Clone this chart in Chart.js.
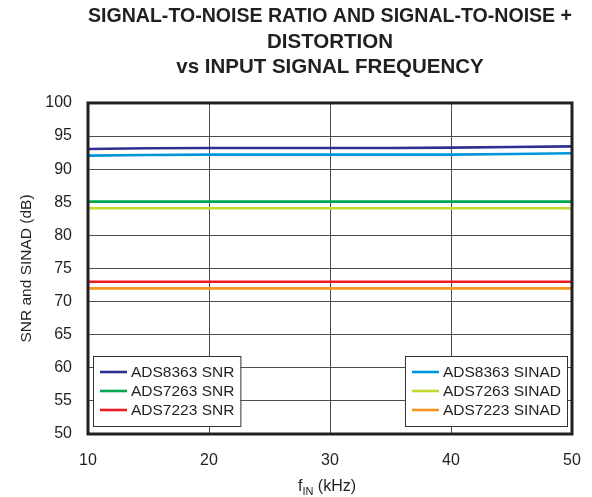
<!DOCTYPE html>
<html>
<head>
<meta charset="utf-8">
<script src="https://cdn.jsdelivr.net/npm/chart.js@4.4.1/dist/chart.umd.min.js"></script>
<style>
  html, body { margin: 0; padding: 0; background: #ffffff; }
  #wrap { width: 592px; height: 497px; position: relative; }
</style>
</head>
<body>
<div id="wrap"><canvas id="c" width="592" height="497"></canvas></div>
<script>
// ---- data ----
const freqs = [10, 15, 20, 25, 30, 35, 40, 45, 50];
const snr8363   = [93.05, 93.15, 93.2, 93.2, 93.2, 93.2, 93.25, 93.35, 93.45];
const snr7263   = [85.1, 85.1, 85.1, 85.1, 85.1, 85.1, 85.1, 85.1, 85.1];
const snr7223   = [73.0, 73.0, 73.0, 73.0, 73.0, 73.0, 73.0, 73.0, 73.0];
const sinad8363 = [92.05, 92.15, 92.2, 92.2, 92.2, 92.2, 92.2, 92.3, 92.4];
const sinad7263 = [84.1, 84.1, 84.1, 84.1, 84.1, 84.1, 84.1, 84.1, 84.1];
const sinad7223 = [72.0, 72.0, 72.0, 72.0, 72.0, 72.0, 72.0, 72.0, 72.0];
const seriesLabels = ['ADS8363 SNR', 'ADS7263 SNR', 'ADS7223 SNR', 'ADS8363 SINAD', 'ADS7263 SINAD', 'ADS7223 SINAD'];
const titleLines = ['SIGNAL-TO-NOISE RATIO AND SIGNAL-TO-NOISE +', 'DISTORTION', 'vs INPUT SIGNAL FREQUENCY'];
const yAxisTitle = 'SNR and SINAD (dB)';
const xTitleMain = 'f', xTitleSub = 'IN', xTitleRest = ' (kHz)';

const FONT = '"Liberation Sans", Arial, Helvetica, sans-serif';
const TEXT = '#231f20';
const colors = ['#2e3192', '#00a651', '#ed1c24', '#0095da', '#c4d82e', '#f7941d'];
const allSeries = [snr8363, snr7263, snr7223, sinad8363, sinad7263, sinad7223];

const datasets = allSeries.map((arr, i) => ({
  label: seriesLabels[i],
  data: freqs.map((f, j) => ({ x: f, y: arr[j] })),
  borderColor: colors[i],
  backgroundColor: colors[i],
  borderWidth: 2.6,
  pointRadius: 0,
  tension: 0,
  fill: false
}));

// frame + twin legends + x title with subscript
const decor = {
  id: 'decor',
  afterDatasetsDraw(chart) {
    const ctx = chart.ctx, a = chart.chartArea;
    ctx.save();
    ctx.strokeStyle = TEXT;
    ctx.lineWidth = 3;
    ctx.strokeRect(a.left, a.top, a.right - a.left, a.bottom - a.top);
    ctx.restore();
  },
  afterDraw(chart) {
    const ctx = chart.ctx, a = chart.chartArea;
    ctx.save();
    ctx.font = '15.5px ' + FONT;
    const drawBox = (idxs, alignLeft) => {
      let tw = 0;
      idxs.forEach(i => { tw = Math.max(tw, ctx.measureText(chart.data.datasets[i].label).width); });
      const w = 38 + tw + 6;
      const h = 70;
      const x0 = alignLeft ? a.left + 5 : a.right - 5 - w;
      const y0 = a.bottom - 8 - h;
      ctx.fillStyle = '#ffffff';
      ctx.fillRect(x0, y0, w, h);
      ctx.strokeStyle = '#333333';
      ctx.lineWidth = 1;
      ctx.strokeRect(x0 + 0.5, y0 + 0.5, w, h);
      idxs.forEach((i, k) => {
        const ds = chart.data.datasets[i];
        const cy = y0 + 16 + k * 19;
        ctx.strokeStyle = ds.borderColor;
        ctx.lineWidth = 2.6;
        ctx.beginPath();
        ctx.moveTo(x0 + 7, cy);
        ctx.lineTo(x0 + 34, cy);
        ctx.stroke();
        ctx.fillStyle = TEXT;
        ctx.textBaseline = 'middle';
        ctx.textAlign = 'left';
        ctx.fillText(ds.label, x0 + 38, cy + 1);
      });
    };
    drawBox([0, 1, 2], true);
    drawBox([3, 4, 5], false);

    // x-axis title with subscript
    const cx = (a.left + a.right) / 2 - 3;
    const base = 491;
    ctx.fillStyle = TEXT;
    ctx.textBaseline = 'alphabetic';
    ctx.textAlign = 'left';
    ctx.font = '16px ' + FONT;
    const w1 = ctx.measureText(xTitleMain).width;
    const w3 = ctx.measureText(xTitleRest).width;
    ctx.font = '11px ' + FONT;
    const w2 = ctx.measureText(xTitleSub).width;
    let x = cx - (w1 + w2 + w3) / 2;
    ctx.font = '16px ' + FONT;
    ctx.fillText(xTitleMain, x, base);
    x += w1;
    ctx.font = '11px ' + FONT;
    ctx.fillText(xTitleSub, x, base + 4);
    x += w2;
    ctx.font = '16px ' + FONT;
    ctx.fillText(xTitleRest, x, base);
    ctx.restore();
  }
};

new Chart(document.getElementById('c'), {
  type: 'line',
  data: { datasets },
  plugins: [decor],
  options: {
    responsive: false,
    animation: false,
    events: [],
    layout: { padding: { left: 13, right: 20, top: 0, bottom: 0 } },
    plugins: {
      legend: { display: false },
      tooltip: { enabled: false },
      title: {
        display: true,
        fullSize: false,
        text: titleLines,
        color: TEXT,
        font: { family: FONT, size: 20.5, weight: 'bold', lineHeight: 1.24 },
        padding: { top: 4, bottom: 22.7 }
      }
    },
    scales: {
      x: {
        type: 'linear',
        min: 10, max: 50,
        ticks: { stepSize: 10, color: TEXT, padding: 17, font: { family: FONT, size: 16 } },
        grid: { color: '#4d4d4d', lineWidth: 1, drawTicks: false },
        border: { display: false },
        afterFit(s) { s.height = 63; s.paddingLeft = 0; s.paddingRight = 0; }
      },
      y: {
        min: 50, max: 100,
        ticks: { stepSize: 5, color: TEXT, padding: 16, font: { family: FONT, size: 16 } },
        grid: { color: '#4d4d4d', lineWidth: 1, drawTicks: false },
        border: { display: false },
        title: { display: true, text: yAxisTitle, color: TEXT, padding: { top: 4, bottom: 4 }, font: { family: FONT, size: 15.5 } },
        afterFit(s) { s.width = 75; }
      }
    }
  }
});
</script>
</body>
</html>
